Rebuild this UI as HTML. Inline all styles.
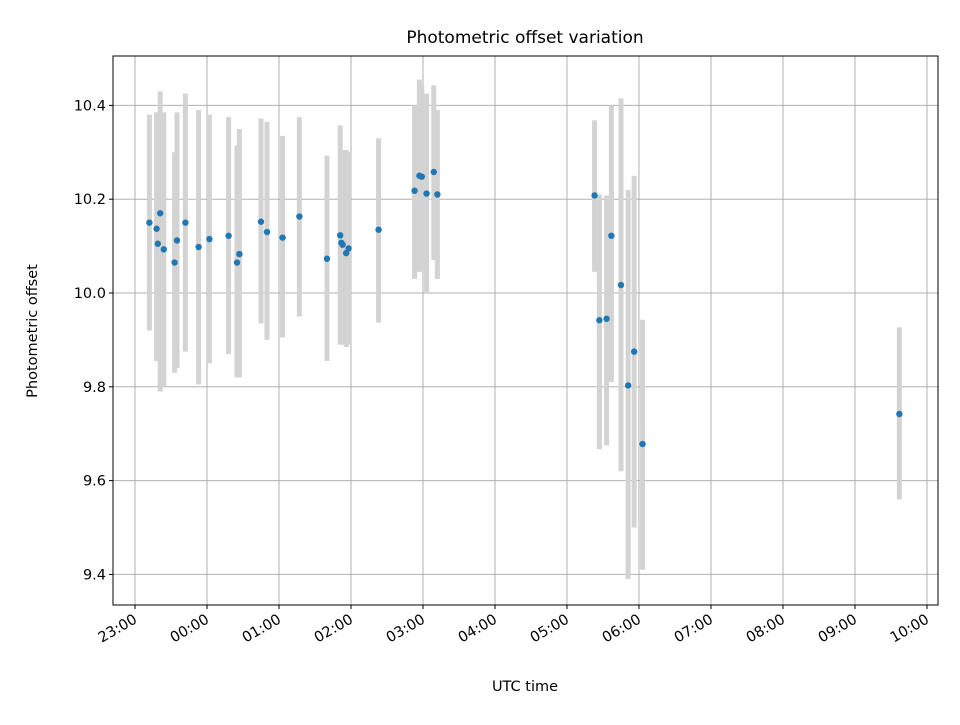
<!DOCTYPE html>
<html><head><meta charset="utf-8"><style>
body{margin:0;background:#fff;font-family:"Liberation Sans","DejaVu Sans",sans-serif}
svg text{font-family:"DejaVu Sans","Liberation Sans",sans-serif;fill:#000}
</style></head><body>
<svg id="chart" width="960" height="720" viewBox="0 0 960 720" xmlns="http://www.w3.org/2000/svg">
<rect width="960" height="720" fill="#fff"/>
<g id="grid"></g>
<g id="bars"></g>
<g id="pts"></g>
<rect x="113" y="56" width="825" height="549" fill="none" stroke="#000" stroke-width="1"/>
<g id="axes"></g>
<text x="525" y="43" font-size="17" text-anchor="middle">Photometric offset variation</text>
<text x="525" y="691" font-size="14.5" text-anchor="middle">UTC time</text>
<text transform="translate(37,331) rotate(-90)" font-size="14.5" text-anchor="middle">Photometric offset</text>
</svg>
<script>
// minutes since 23:00
const times=[12,18,19,21,24,33,35,42,53,62,78,85,87,105,110,123,137,160,171,172,173,176,178,203,233,237,239,243,249,252,383,387,393,397,405,411,416,423,637];
const values=[10.15,10.137,10.105,10.17,10.093,10.065,10.112,10.15,10.098,10.115,10.122,10.065,10.083,10.152,10.13,10.118,10.163,10.073,10.123,10.107,10.103,10.085,10.095,10.135,10.218,10.25,10.248,10.212,10.258,10.21,10.208,9.942,9.945,10.122,10.017,9.803,9.875,9.678,9.742];
const lows=[9.92,9.855,9.91,9.79,9.80,9.83,9.84,9.875,9.805,9.85,9.87,9.82,9.82,9.935,9.90,9.905,9.95,9.855,9.89,9.895,9.89,9.885,9.89,9.937,10.03,10.045,10.05,10.0,10.07,10.03,10.045,9.667,9.675,9.81,9.62,9.39,9.50,9.41,9.56];
const highs=[10.38,10.385,10.385,10.43,10.385,10.30,10.385,10.425,10.39,10.38,10.375,10.315,10.35,10.372,10.365,10.335,10.375,10.293,10.357,10.305,10.30,10.305,10.30,10.33,10.40,10.455,10.44,10.425,10.443,10.39,10.368,10.21,10.208,10.40,10.415,10.22,10.25,9.943,9.927];
const xTickLabels=["23:00","00:00","01:00","02:00","03:00","04:00","05:00","06:00","07:00","08:00","09:00","10:00"];
const yTicks=[9.4,9.6,9.8,10.0,10.2,10.4];
const X0=113,X1=938,Y0=56,Y1=605;
const xMin=-18.33,xMax=669.2,yMin=9.3348,yMax=10.5053;
const xs=m=>X0+(m-xMin)/(xMax-xMin)*(X1-X0);
const ys=v=>Y1-(v-yMin)/(yMax-yMin)*(Y1-Y0);
const NS="http://www.w3.org/2000/svg";
function mk(t,a,p){const e=document.createElementNS(NS,t);for(const k in a)e.setAttribute(k,a[k]);p.appendChild(e);return e;}
const grid=document.getElementById('grid'),axes=document.getElementById('axes');
xTickLabels.forEach((l,i)=>{const x=xs(i*60);
 const g=mk('line',{x1:x,x2:x,y1:Y0,y2:Y1,stroke:'#b0b0b0','stroke-width':1},grid);
 
 const t=mk('line',{x1:x,x2:x,y1:Y1,y2:Y1+4,stroke:'#000'},axes);
 
 const tx=mk('text',{transform:`translate(${x+3},${Y1+17}) rotate(-30)`,'font-size':14.5,'text-anchor':'end'},axes);
 tx.textContent=l;
 
});
yTicks.forEach(v=>{const y=ys(v);
 const g=mk('line',{x1:X0,x2:X1,y1:y,y2:y,stroke:'#b0b0b0','stroke-width':1},grid);
 
 const t=mk('line',{x1:X0-4,x2:X0,y1:y,y2:y,stroke:'#000'},axes);
 
 const tx=mk('text',{x:X0-7,y:y+5,'font-size':14.5,'text-anchor':'end'},axes);
 tx.textContent=v.toFixed(1);
 
});
const bars=document.getElementById('bars'),pts=document.getElementById('pts');
times.forEach((m,i)=>{const x=xs(m);
 const b=mk('line',{x1:x,x2:x,y1:ys(lows[i]),y2:ys(highs[i]),stroke:'#d3d3d3','stroke-width':5},bars);
 
 const c=mk('circle',{cx:x,cy:ys(values[i]),r:3.2,fill:'#1f77b4'},pts);
 
});
</script>
</body></html>
